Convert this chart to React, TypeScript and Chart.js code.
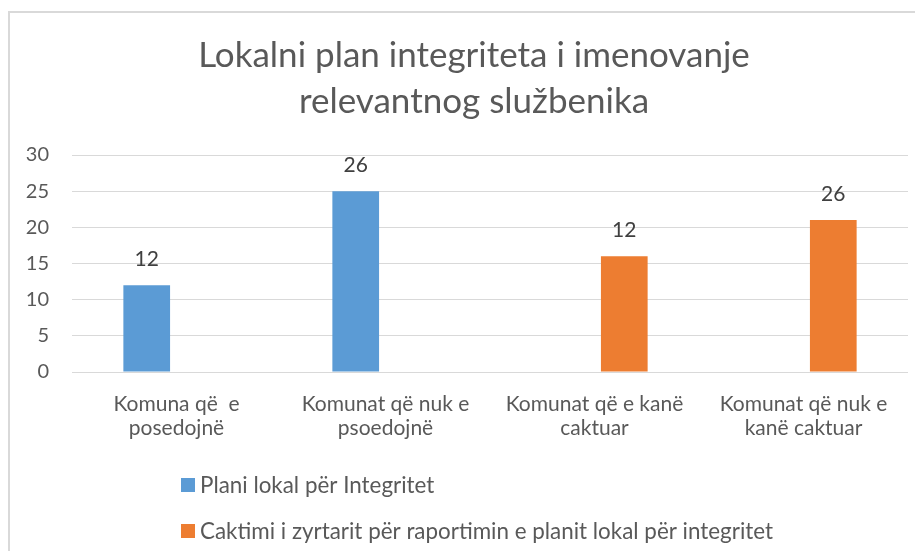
import React, { useEffect, useRef } from "react";
import { Chart, registerables } from "chart.js";

Chart.register(...registerables);

const titleLines = ["Lokalni plan integriteta i imenovanje", "relevantnog službenika"];
const categories = [
  ["Komuna që  e", "posedojnë"],
  ["Komunat që nuk e", "psoedojnë"],
  ["Komunat që e kanë", "caktuar"],
  ["Komunat që nuk e", "kanë caktuar"],
];
const seriesNames = [
  "Plani lokal për Integritet",
  "Caktimi i zyrtarit për raportimin e planit lokal për integritet",
];
const planiValues = [12, 25, null, null];
const caktimiValues = [null, null, 16, 21];
const dataLabelTexts = ["12", "26", "12", "26"];
const yTicks = [0, 5, 10, 15, 20, 25, 30];

const FONT = "Lato, 'Liberation Sans', sans-serif";
const TEXT = "#595959";

const dataLabelPlugin = {
  id: "barLabels",
  afterDatasetsDraw(chart: any) {
    const ctx = chart.ctx;
    ctx.save();
    ctx.font = `21px ${FONT}`;
    ctx.fillStyle = "#404040";
    ctx.textAlign = "center";
    ctx.textBaseline = "alphabetic";
    chart.data.datasets.forEach((ds: any, di: number) => {
      const meta = chart.getDatasetMeta(di);
      meta.data.forEach((el: any, i: number) => {
        if (ds.data[i] == null) return;
        ctx.fillText(dataLabelTexts[i], el.x, el.y - 19);
      });
    });
    ctx.restore();
  },
};

const stackLegendPlugin = {
  id: "stackLegend",
  afterDraw(chart: any, _args: any, opts: any) {
    const ctx = chart.ctx;
    ctx.save();
    ctx.font = `22.4px ${FONT}`;
    ctx.textAlign = "left";
    ctx.textBaseline = "alphabetic";
    chart.data.datasets.forEach((ds: any, i: number) => {
      const y = opts.top + i * opts.spacing;
      ctx.fillStyle = ds.backgroundColor;
      ctx.fillRect(opts.left, y, 14, 14);
      ctx.fillStyle = TEXT;
      ctx.fillText(ds.label, opts.left + 19, y + 14.5);
    });
    ctx.restore();
  },
};

// shift the title box so that it is centred like the original
const titleShiftPlugin = {
  id: "titleShift",
  afterLayout(chart: any, _args: any, opts: any) {
    const t = chart.titleBlock;
    if (t) t.left += opts.shift;
  },
};

export default function App() {
  const ref = useRef<HTMLCanvasElement | null>(null);

  useEffect(() => {
    if (!ref.current) return;
    const chart = new Chart(ref.current, {
      type: "bar",
      data: {
        labels: categories,
        datasets: [
          {
            label: seriesNames[0],
            data: planiValues,
            backgroundColor: "#5b9bd5",
            categoryPercentage: 0.57,
            barPercentage: 0.784,
          },
          {
            label: seriesNames[1],
            data: caktimiValues,
            backgroundColor: "#ed7d31",
            categoryPercentage: 0.57,
            barPercentage: 0.784,
          },
        ],
      },
      options: {
        responsive: false,
        animation: false,
        layout: { padding: { left: 0, right: 7, top: 0, bottom: 89 } },
        plugins: {
          legend: { display: false },
          tooltip: { enabled: false },
          title: {
            display: true,
            text: titleLines,
            color: TEXT,
            font: { family: FONT, size: 35, weight: "normal", lineHeight: 46 / 35 },
            padding: { top: 20, bottom: 30 },
          },
          stackLegend: { left: 171, top: 465, spacing: 46 },
          titleShift: { shift: 30 },
        } as any,
        scales: {
          x: {
            grid: { display: false, drawTicks: false },
            border: { display: false },
            ticks: {
              color: TEXT,
              font: { family: FONT, size: 21, lineHeight: 23.3 / 21 },
              padding: 21,
              maxRotation: 0,
              autoSkip: false,
            },
            afterFit(scale: any) {
              scale.height = 90;
            },
          },
          y: {
            min: yTicks[0],
            max: yTicks[yTicks.length - 1],
            grid: { color: "#d9d9d9", lineWidth: 1, drawTicks: false },
            border: { display: false },
            ticks: {
              stepSize: yTicks[1] - yTicks[0],
              color: TEXT,
              font: { family: FONT, size: 20 },
              padding: 23,
            },
            afterFit(scale: any) {
              scale.width = 62;
            },
          },
        },
      },
      plugins: [dataLabelPlugin, stackLegendPlugin, titleShiftPlugin],
    } as any);
    return () => chart.destroy();
  }, []);

  return (
    <div
      style={{
        marginTop: 3,
        borderLeft: "2px solid #d9d9d9",
        borderTop: "2px solid #d9d9d9",
        width: 905,
        height: 538,
      }}
    >
      <canvas ref={ref} width={905} height={538} style={{ display: "block", width: 905, height: 538 }} />
    </div>
  );
}
